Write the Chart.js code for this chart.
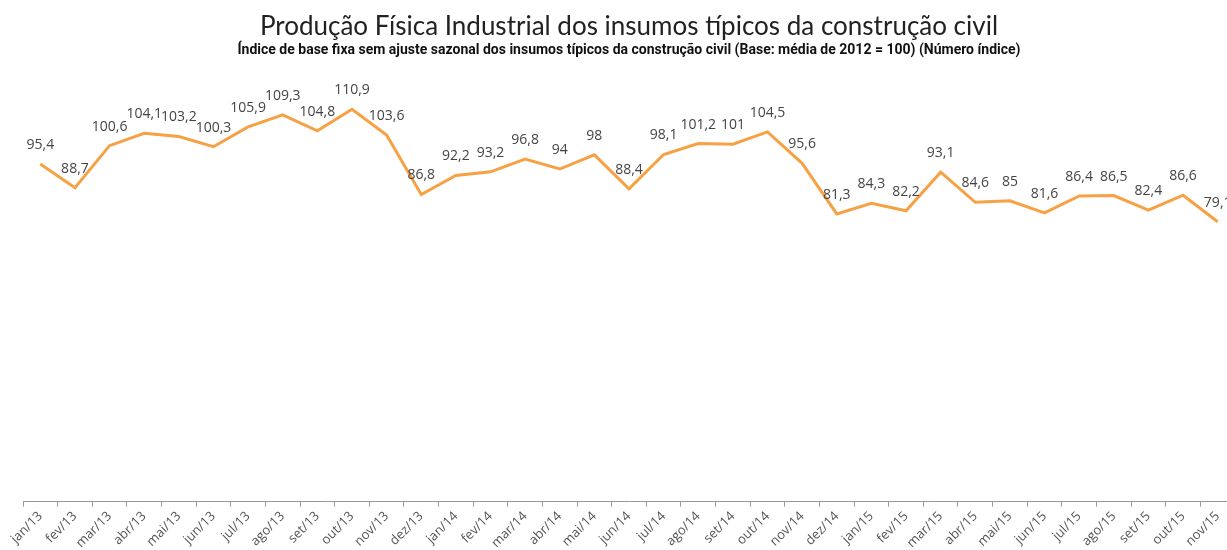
<!DOCTYPE html>
<html>
<head>
<meta charset="utf-8">
<script src="https://cdn.jsdelivr.net/npm/chart.js@4"></script>
<style>
  html, body { margin: 0; padding: 0; background: #fff; overflow: hidden; }
  #wrap { position: relative; width: 1254px; height: 553px; }
</style>
</head>
<body>
<div id="wrap"><canvas id="chart"></canvas></div>
<script>
const months = [
  'jan/13', 'fev/13', 'mar/13', 'abr/13', 'mai/13', 'jun/13', 'jul/13', 'ago/13', 'set/13', 'out/13', 'nov/13', 'dez/13',
  'jan/14', 'fev/14', 'mar/14', 'abr/14', 'mai/14', 'jun/14', 'jul/14', 'ago/14', 'set/14', 'out/14', 'nov/14', 'dez/14',
  'jan/15', 'fev/15', 'mar/15', 'abr/15', 'mai/15', 'jun/15', 'jul/15', 'ago/15', 'set/15', 'out/15', 'nov/15'
];
const indexValues = [
  95.4, 88.7, 100.6, 104.1, 103.2, 100.3, 105.9, 109.3, 104.8, 110.9, 103.6, 86.8,
  92.2, 93.2, 96.8, 94, 98, 88.4, 98.1, 101.2, 101, 104.5, 95.6, 81.3,
  84.3, 82.2, 93.1, 84.6, 85, 81.6, 86.4, 86.5, 82.4, 86.6, 79.1
];
const titleText = 'Produção Física Industrial dos insumos típicos da construção civil';
const subtitleText = 'Índice de base fixa sem ajuste sazonal dos insumos típicos da construção civil (Base: média de 2012 = 100) (Número índice)';

// rótulos de valor acima de cada ponto
const pointLabels = {
  id: 'pointLabels',
  afterDatasetsDraw(chart) {
    const ctx = chart.ctx;
    const meta = chart.getDatasetMeta(0);
    ctx.save();
    ctx.font = "14px 'Open Sans', sans-serif";
    ctx.fillStyle = '#444';
    ctx.textAlign = 'center';
    ctx.textBaseline = 'middle';
    meta.data.forEach((pt, i) => {
      const txt = String(indexValues[i]).replace('.', ',');
      ctx.fillText(txt, pt.x, pt.y - 19);
    });
    ctx.restore();
  }
};

Chart.defaults.font.family = "'Open Sans', sans-serif";

new Chart(document.getElementById('chart').getContext('2d'), {
  type: 'line',
  data: {
    labels: months,
    datasets: [
      {
        data: indexValues,
        borderColor: '#F7A145',
        borderWidth: 3,
        pointRadius: 0,
        tension: 0,
        fill: false
      }
    ]
  },
  options: {
    responsive: true,
    maintainAspectRatio: false,
    animation: false,
    layout: { padding: { left: 23, right: 19, top: 4, bottom: 0 } },
    scales: {
      x: {
        offset: true,
        grid: { display: true, drawOnChartArea: false, offset: true, tickLength: 5, color: '#999' },
        border: { color: '#999' },
        ticks: {
          minRotation: 45,
          maxRotation: 45,
          autoSkip: false,
          color: '#555',
          font: { size: 13 },
          padding: 2
        }
      },
      y: {
        display: false,
        min: 0,
        max: 120
      }
    },
    plugins: {
      legend: { display: false },
      tooltip: { enabled: false },
      title: {
        display: true,
        text: titleText,
        color: '#222',
        font: { family: 'Lato', size: 26, weight: 'normal' },
        padding: { top: 7, bottom: 0 }
      },
      subtitle: {
        display: true,
        text: subtitleText,
        color: '#111',
        font: { family: 'Roboto', size: 14, weight: 'bold' },
        padding: { top: 0, bottom: 18 }
      }
    }
  },
  plugins: [pointLabels]
});
</script>
</body>
</html>
